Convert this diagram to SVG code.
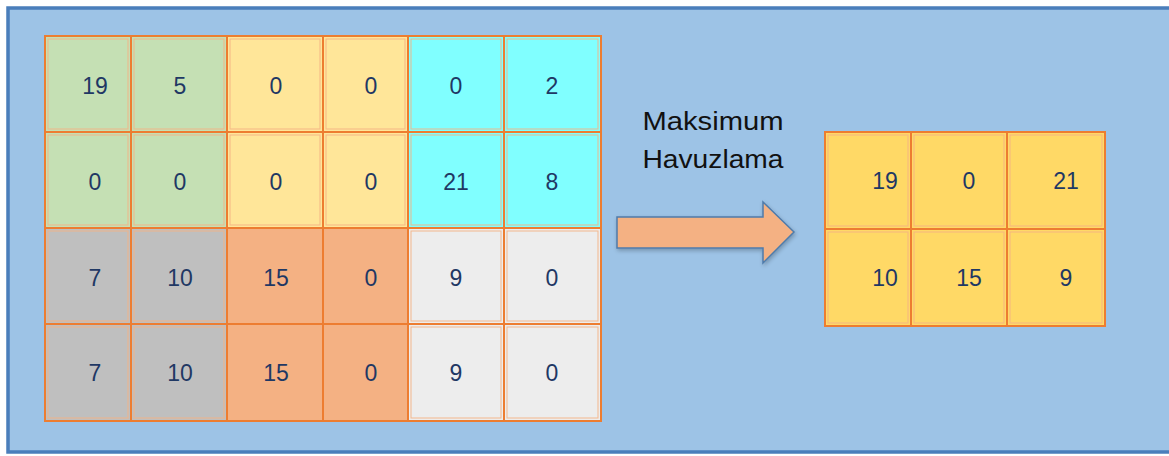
<svg xmlns="http://www.w3.org/2000/svg" width="1169" height="456" viewBox="0 0 1169 456">
  <defs>
    <style>
      .cell { stroke: #ED7D31; stroke-width: 2; }
      .inner { fill: none; stroke: #F4B183; stroke-width: 1; opacity: 0.9; }
      .num { font-family: "Liberation Sans", Arial, sans-serif; font-size: 23px; fill: #1F3864; text-anchor: middle; }
      .label { font-family: "Liberation Sans", Arial, sans-serif; font-size: 26px; fill: #111111; text-anchor: middle; }
      .green { fill: #C5E0B4; }
      .yellow { fill: #FFE699; }
      .cyan { fill: #80FFFF; }
      .grey { fill: #BFBFBF; }
      .salmon { fill: #F4B183; }
      .light { fill: #EDEDED; }
      .gold { fill: #FFD966; }
    </style>
    <filter id="shadow" x="-10%" y="-20%" width="130%" height="150%">
      <feGaussianBlur in="SourceAlpha" stdDeviation="2"/>
      <feOffset dx="1" dy="2"/>
      <feComponentTransfer><feFuncA type="linear" slope="0.25"/></feComponentTransfer>
      <feMerge><feMergeNode/><feMergeNode in="SourceGraphic"/></feMerge>
    </filter>
  </defs>

  <!-- background panel -->
  <rect x="0" y="0" width="1169" height="456" fill="#FFFFFF"/>
  <rect id="panel" x="8" y="8" width="1170" height="444" fill="#9DC3E6" stroke="#4A7EBB" stroke-width="3.5"/>

  <!-- input feature map 4x6 -->
  <g id="input-grid">
    <g id="in-r1c1"><rect class="cell green" x="45" y="36" width="86" height="96"/><rect class="inner" x="48" y="39" width="80" height="90"/><text class="num" x="95" y="94">19</text></g>
    <g id="in-r1c2"><rect class="cell green" x="131" y="36" width="96" height="96"/><rect class="inner" x="134" y="39" width="90" height="90"/><text class="num" x="180" y="94">5</text></g>
    <g id="in-r1c3"><rect class="cell yellow" x="227" y="36" width="96" height="96"/><rect class="inner" x="230" y="39" width="90" height="90"/><text class="num" x="276" y="94">0</text></g>
    <g id="in-r1c4"><rect class="cell yellow" x="323" y="36" width="85" height="96"/><rect class="inner" x="326" y="39" width="79" height="90"/><text class="num" x="371" y="94">0</text></g>
    <g id="in-r1c5"><rect class="cell cyan" x="408" y="36" width="96" height="96"/><rect class="inner" x="411" y="39" width="90" height="90"/><text class="num" x="456" y="94">0</text></g>
    <g id="in-r1c6"><rect class="cell cyan" x="504" y="36" width="97" height="96"/><rect class="inner" x="507" y="39" width="91" height="90"/><text class="num" x="552" y="94">2</text></g>

    <g id="in-r2c1"><rect class="cell green" x="45" y="132" width="86" height="96"/><rect class="inner" x="48" y="135" width="80" height="90"/><text class="num" x="95" y="190">0</text></g>
    <g id="in-r2c2"><rect class="cell green" x="131" y="132" width="96" height="96"/><rect class="inner" x="134" y="135" width="90" height="90"/><text class="num" x="180" y="190">0</text></g>
    <g id="in-r2c3"><rect class="cell yellow" x="227" y="132" width="96" height="96"/><rect class="inner" x="230" y="135" width="90" height="90"/><text class="num" x="276" y="190">0</text></g>
    <g id="in-r2c4"><rect class="cell yellow" x="323" y="132" width="85" height="96"/><rect class="inner" x="326" y="135" width="79" height="90"/><text class="num" x="371" y="190">0</text></g>
    <g id="in-r2c5"><rect class="cell cyan" x="408" y="132" width="96" height="96"/><rect class="inner" x="411" y="135" width="90" height="90"/><text class="num" x="456" y="190">21</text></g>
    <g id="in-r2c6"><rect class="cell cyan" x="504" y="132" width="97" height="96"/><rect class="inner" x="507" y="135" width="91" height="90"/><text class="num" x="552" y="190">8</text></g>

    <g id="in-r3c1"><rect class="cell grey" x="45" y="228" width="86" height="96"/><rect class="inner" x="48" y="231" width="80" height="90"/><text class="num" x="95" y="286">7</text></g>
    <g id="in-r3c2"><rect class="cell grey" x="131" y="228" width="96" height="96"/><rect class="inner" x="134" y="231" width="90" height="90"/><text class="num" x="180" y="286">10</text></g>
    <g id="in-r3c3"><rect class="cell salmon" x="227" y="228" width="96" height="96"/><rect class="inner" x="230" y="231" width="90" height="90"/><text class="num" x="276" y="286">15</text></g>
    <g id="in-r3c4"><rect class="cell salmon" x="323" y="228" width="85" height="96"/><rect class="inner" x="326" y="231" width="79" height="90"/><text class="num" x="371" y="286">0</text></g>
    <g id="in-r3c5"><rect class="cell light" x="408" y="228" width="96" height="96"/><rect class="inner" x="411" y="231" width="90" height="90"/><text class="num" x="456" y="286">9</text></g>
    <g id="in-r3c6"><rect class="cell light" x="504" y="228" width="97" height="96"/><rect class="inner" x="507" y="231" width="91" height="90"/><text class="num" x="552" y="286">0</text></g>

    <g id="in-r4c1"><rect class="cell grey" x="45" y="324" width="86" height="97"/><rect class="inner" x="48" y="327" width="80" height="91"/><text class="num" x="95" y="381">7</text></g>
    <g id="in-r4c2"><rect class="cell grey" x="131" y="324" width="96" height="97"/><rect class="inner" x="134" y="327" width="90" height="91"/><text class="num" x="180" y="381">10</text></g>
    <g id="in-r4c3"><rect class="cell salmon" x="227" y="324" width="96" height="97"/><rect class="inner" x="230" y="327" width="90" height="91"/><text class="num" x="276" y="381">15</text></g>
    <g id="in-r4c4"><rect class="cell salmon" x="323" y="324" width="85" height="97"/><rect class="inner" x="326" y="327" width="79" height="91"/><text class="num" x="371" y="381">0</text></g>
    <g id="in-r4c5"><rect class="cell light" x="408" y="324" width="96" height="97"/><rect class="inner" x="411" y="327" width="90" height="91"/><text class="num" x="456" y="381">9</text></g>
    <g id="in-r4c6"><rect class="cell light" x="504" y="324" width="97" height="97"/><rect class="inner" x="507" y="327" width="91" height="91"/><text class="num" x="552" y="381">0</text></g>
  </g>

  <!-- operation label and block arrow -->
  <g id="connectors">
    <g id="pool-arrow">
      <polygon points="617,217 763,217 763,202 794,232 763,263 763,248 617,248" fill="#F4B183" stroke="#4F7BAA" stroke-width="1.5" filter="url(#shadow)"/>
    </g>
    <g id="pool-label">
      <text class="label" x="713" y="130" textLength="141" lengthAdjust="spacingAndGlyphs">Maksimum</text>
      <text class="label" x="713" y="168" textLength="141" lengthAdjust="spacingAndGlyphs">Havuzlama</text>
    </g>
  </g>

  <!-- pooled output 2x3 -->
  <g id="output-grid">
    <g id="out-r1c1"><rect class="cell gold" x="825" y="132" width="86" height="97"/><rect class="inner" x="828" y="135" width="80" height="91"/><text class="num" x="885" y="189">19</text></g>
    <g id="out-r1c2"><rect class="cell gold" x="911" y="132" width="96" height="97"/><rect class="inner" x="914" y="135" width="90" height="91"/><text class="num" x="969" y="189">0</text></g>
    <g id="out-r1c3"><rect class="cell gold" x="1007" y="132" width="98" height="97"/><rect class="inner" x="1010" y="135" width="92" height="91"/><text class="num" x="1066" y="189">21</text></g>
    <g id="out-r2c1"><rect class="cell gold" x="825" y="229" width="86" height="97"/><rect class="inner" x="828" y="232" width="80" height="91"/><text class="num" x="885" y="286">10</text></g>
    <g id="out-r2c2"><rect class="cell gold" x="911" y="229" width="96" height="97"/><rect class="inner" x="914" y="232" width="90" height="91"/><text class="num" x="969" y="286">15</text></g>
    <g id="out-r2c3"><rect class="cell gold" x="1007" y="229" width="98" height="97"/><rect class="inner" x="1010" y="232" width="92" height="91"/><text class="num" x="1066" y="286">9</text></g>
  </g>
</svg>
